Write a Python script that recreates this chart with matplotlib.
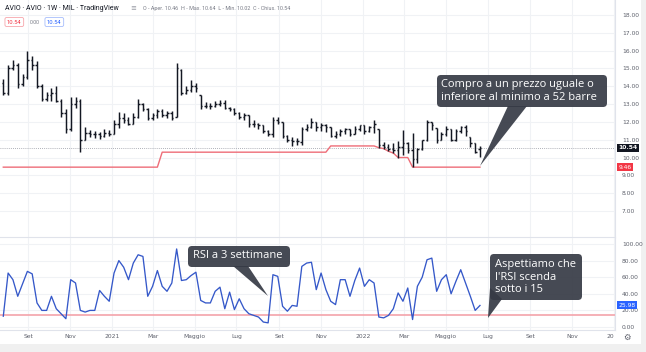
import matplotlib
matplotlib.use("Agg")
import matplotlib.pyplot as plt
import matplotlib.dates as mdates
import matplotlib.transforms as mtrans
from matplotlib.patches import FancyBboxPatch, Polygon, Rectangle
import numpy as np
import datetime as dt

# ---------------- data ----------------
first_week = dt.date(2020, 7, 27)
opens = [14.2, 13.6, 15.0, 15.2, 14.1, 14.5, 15.5, 15.2, 14.0, 13.3,
         13.5, 13.6, 13.2, 12.5, 11.6, 13.0, 13.2, 11.0, 11.4, 11.3,
         11.3, 11.2, 11.4, 11.3, 11.9, 12.2, 12.1, 11.9, 12.3, 13.0,
         12.7, 12.2, 12.4, 12.6, 12.4, 12.5, 12.3, 14.9, 13.6, 13.8,
         14.0, 13.5, 12.9, 12.9, 12.9, 13.0, 13.05, 12.8, 12.7, 12.5,
         12.3, 12.4, 11.9, 11.9, 11.8, 11.5, 11.3, 12.1, 12.0, 11.2,
         11.0, 10.9, 10.85, 11.6, 11.7, 12.0, 11.7, 11.8, 11.7, 11.2,
         11.3, 11.5, 11.6, 11.3, 11.6, 11.8, 11.5, 11.7, 11.6, 10.7,
         10.6, 10.5, 10.4, 10.6, 10.8, 10.4, 9.9, 10.5, 11.0, 12.0,
         11.65, 11.0, 11.3, 11.6, 11.0, 11.5, 11.7, 11.15, 10.8, 10.46]
highs = [14.4, 15.2, 15.5, 15.3, 14.7, 16.0, 15.7, 15.4, 14.1, 13.7,
         13.9, 14.0, 13.3, 12.7, 13.4, 13.4, 13.3, 11.7, 11.55, 11.5,
         11.45, 11.6, 11.55, 12.1, 12.55, 12.5, 12.3, 12.5, 13.3, 13.05,
         12.8, 12.5, 12.75, 12.7, 12.6, 12.6, 15.3, 14.95, 14.0, 14.35,
         14.2, 13.5, 13.1, 13.05, 13.15, 13.25, 13.25, 12.85, 12.8, 12.55,
         12.5, 12.4, 12.1, 11.95, 11.85, 11.55, 12.3, 12.3, 12.0, 11.25,
         11.15, 11.1, 11.7, 11.9, 12.2, 12.0, 11.95, 11.9, 11.7, 11.5,
         11.6, 11.65, 11.6, 11.75, 11.85, 11.85, 11.75, 12.1, 11.6, 10.85,
         10.75, 10.8, 10.9, 11.55, 10.85, 11.4, 10.55, 11.0, 12.1, 12.0,
         11.65, 11.45, 11.75, 11.6, 11.6, 11.75, 11.8, 11.15, 10.8, 10.64]
lows = [13.5, 13.5, 14.9, 13.9, 14.0, 14.4, 14.9, 13.9, 13.2, 13.2,
        13.2, 13.1, 12.3, 11.4, 11.5, 12.8, 10.3, 11.0, 11.15, 11.1,
        11.05, 11.15, 11.2, 11.3, 11.65, 11.95, 11.8, 11.9, 12.2, 12.6,
        12.1, 12.1, 12.2, 12.3, 12.2, 12.1, 12.3, 13.5, 13.55, 13.7,
        13.7, 12.7, 12.8, 12.75, 12.85, 12.9, 12.75, 12.6, 12.4, 12.15,
        12.1, 11.7, 11.7, 11.6, 11.4, 11.2, 11.15, 11.9, 11.1, 10.85,
        10.65, 10.7, 10.7, 11.5, 11.65, 11.5, 11.5, 11.45, 11.15, 11.1,
        11.2, 11.3, 11.2, 11.3, 11.5, 11.3, 11.45, 11.4, 10.55, 10.5,
        10.35, 10.25, 10.0, 10.15, 10.25, 9.46, 9.7, 10.45, 10.95, 11.55,
        10.8, 11.0, 11.2, 10.9, 10.95, 11.4, 11.2, 10.6, 10.25, 10.02]
closes = [13.6, 15.0, 15.2, 14.1, 14.5, 15.5, 15.2, 14.0, 13.3, 13.5,
          13.6, 13.2, 12.5, 11.6, 13.0, 13.2, 11.0, 11.4, 11.3, 11.3,
          11.2, 11.4, 11.3, 11.9, 12.2, 12.1, 11.9, 12.3, 13.0, 12.7,
          12.2, 12.4, 12.6, 12.4, 12.5, 12.2, 15.0, 13.6, 13.8, 14.0,
          13.9, 12.9, 12.9, 12.9, 13.0, 13.05, 12.8, 12.7, 12.5, 12.3,
          12.4, 11.9, 11.9, 11.8, 11.5, 11.3, 12.1, 12.0, 11.2, 11.0,
          10.9, 10.9, 11.6, 11.7, 12.0, 11.7, 11.8, 11.7, 11.2, 11.3,
          11.5, 11.6, 11.3, 11.6, 11.8, 11.5, 11.7, 11.9, 10.7, 10.6,
          10.5, 10.4, 10.6, 10.8, 10.4, 9.9, 10.5, 11.0, 12.0, 11.8,
          11.0, 11.3, 11.6, 11.0, 11.5, 11.7, 11.5, 10.8, 10.3, 10.54]
rsi3 = [13, 65, 57, 37, 52, 67, 64, 29, 20, 20,
        37, 22, 16, 10, 57, 53, 20, 18, 20, 20,
        44, 37, 31, 65, 80, 72, 57, 77, 87, 85,
        37, 49, 68, 49, 43, 53, 94, 56, 57, 62,
        66, 32, 29, 29, 43, 48, 22, 42, 21, 34,
        22, 16, 14, 12, 6, 5, 63, 61, 25, 19,
        26, 25, 73, 77, 78, 45, 65, 45, 31, 27,
        57, 57, 37, 56, 71, 49, 57, 53, 12, 11,
        14, 22, 41, 31, 47, 9, 49, 60, 81, 83,
        43, 57, 63, 40, 55, 69, 53, 37, 20, 25.98]
rsi_threshold = 15
prior_low = 9.46          # 52-week low set before the visible range
prior_low_bars = 33       # visible bars whose 52-week window still contains it

price_ticks = [7, 8, 9, 10, 11, 12, 13, 14, 15, 16, 17, 18]
rsi_ticks = [0, 20, 40, 60, 80, 100]
month_ticks = [dt.date(2020, 9, 1), dt.date(2020, 11, 1), dt.date(2021, 1, 1),
               dt.date(2021, 3, 1), dt.date(2021, 5, 1), dt.date(2021, 7, 1),
               dt.date(2021, 9, 1), dt.date(2021, 11, 1), dt.date(2022, 1, 1),
               dt.date(2022, 3, 1), dt.date(2022, 5, 1), dt.date(2022, 7, 1),
               dt.date(2022, 9, 1), dt.date(2022, 11, 1), dt.date(2023, 1, 1)]
month_labels = ["Set", "Nov", "2021", "Mar", "Maggio", "Lug", "Set", "Nov",
                "2022", "Mar", "Maggio", "Lug", "Set", "Nov", "20"]

n = len(closes)
dates = np.array([mdates.date2num(first_week + dt.timedelta(weeks=i)) for i in range(n)])
low52 = []
for i in range(n):
    m = min(lows[max(0, i - 51):i + 1])
    if i < prior_low_bars:
        m = min(m, prior_low)
    low52.append(m)

# ---------------- layout ----------------
W, H = 646, 352
plt.rcParams['font.family'] = ['Roboto', 'DejaVu Sans']
fig = plt.figure(figsize=(W / 100, H / 100), dpi=100)
fig.patch.set_facecolor('#f0f0f0')

bg = fig.add_axes([0, 0, 1, 1], zorder=0)
bg.set_xlim(0, W); bg.set_ylim(H, 0); bg.axis('off')
bg.add_patch(Rectangle((0, 0), 641, 344, facecolor='white', edgecolor='none'))

def fy(py):
    return 1 - py / H

plot_right = 615
axp = fig.add_axes([0, fy(237), plot_right / W, 237 / H], zorder=1)
axr = fig.add_axes([0, fy(330), plot_right / W, (330 - 238) / H], zorder=1)

day_per_px = 7 / 4.815
x0 = dates[0] - 3.3 * day_per_px
x1 = dates[0] + (plot_right - 3.3) * day_per_px
grid_c = '#f0f2f5'
sep_c = '#e0e3eb'
lab_c = '#5d606b'
tick_nums = [mdates.date2num(d) for d in month_ticks]

for ax in (axp, axr):
    ax.set_facecolor('none')
    ax.set_xlim(x0, x1)
    ax.set_xticks(tick_nums)
    ax.grid(True, color=grid_c, lw=0.8)
    ax.set_axisbelow(True)
    for s in ('top', 'left'):
        ax.spines[s].set_visible(False)
    ax.spines['right'].set_color(sep_c)
    ax.spines['bottom'].set_color(sep_c)
    ax.yaxis.tick_right()
    ax.tick_params(axis='y', length=0, pad=5, labelsize=4.3, labelcolor=lab_c)
    ax.tick_params(axis='x', length=0)

axp.set_ylim(5.54, 18.84)
axp.set_yticks(price_ticks)
axp.set_yticklabels([f"{v:.2f}" for v in price_ticks], family='DejaVu Sans')
axp.tick_params(axis='x', labelbottom=False)

axr.set_ylim(-3.6, 107.2)
axr.set_yticks(rsi_ticks)
axr.set_yticklabels([f"{v:.2f}" for v in rsi_ticks], family='DejaVu Sans')
axr.set_xticklabels(month_labels, family='DejaVu Sans')
axr.tick_params(axis='x', pad=3, labelsize=4.3, labelcolor=lab_c)
axr.get_xticklabels()[-1].set_horizontalalignment('right')

# OHLC bars
tick_len = 2.2
axp.vlines(dates, lows, highs, color='#131722', lw=1.05, zorder=3)
axp.hlines(opens, dates - tick_len, dates, color='#131722', lw=1.05, zorder=3)
axp.hlines(closes, dates, dates + tick_len, color='#131722', lw=1.05, zorder=3)
# last price line
axp.axhline(closes[-1], color='#9598a1', lw=0.6, ls=(0, (1, 1.5)), zorder=2)
# 52-week low
axp.plot(dates, low52, color='#ee6d78', lw=1.0, zorder=2)

# RSI
axr.plot(dates, rsi3, color='#3558c9', lw=0.95, zorder=3)
axr.axhline(rsi_threshold, color='#f4a3aa', lw=1.2, zorder=2)

# axis value boxes
btr_p = mtrans.blended_transform_factory(axp.transAxes, axp.transData)
btr_r = mtrans.blended_transform_factory(axr.transAxes, axr.transData)
axp.text(1.006, closes[-1], f"{closes[-1]:.2f}", transform=btr_p, fontsize=4.3,
         family='DejaVu Sans', color='white', va='center', ha='left', fontweight='bold',
         bbox=dict(boxstyle='square,pad=0.25', fc='#131722', ec='none'), zorder=5, clip_on=False)
axp.text(1.006, low52[-1], f"{low52[-1]:.2f}", transform=btr_p, fontsize=4.3,
         family='DejaVu Sans', color='white', va='center', ha='left',
         bbox=dict(boxstyle='square,pad=0.25', fc='#f23645', ec='none'), zorder=5, clip_on=False)
axr.text(1.006, rsi3[-1], f"{rsi3[-1]:.2f}", transform=btr_r, fontsize=4.3,
         family='DejaVu Sans', color='white', va='center', ha='left',
         bbox=dict(boxstyle='square,pad=0.25', fc='#2962ff', ec='none'), zorder=5, clip_on=False)

# ---------------- overlay: header & callouts ----------------
ov = fig.add_axes([0, 0, 1, 1], zorder=10)
ov.set_xlim(0, W); ov.set_ylim(H, 0); ov.axis('off')

ov.text(5, 8, "AVIO · AVIO · 1W · MIL · TradingView", fontsize=5.0, color='#131722',
        va='center', ha='left')
ov.text(130, 8, "≡", fontsize=5, color='#9598a1', va='center', ha='left', family='DejaVu Sans')
ov.text(143, 8.3, "O - Aper. 10.46  H - Max. 10.64  L - Min. 10.02  C - Chius. 10.54",
        fontsize=3.9, color='#787b86', va='center', ha='left')
ov.text(7, 22, "10.54", fontsize=4.2, color='#f23645', va='center', ha='left',
        bbox=dict(boxstyle='round,pad=0.35,rounding_size=0.3', fc='white', ec='#f7a5ab', lw=0.6))
ov.text(30, 22, "0.00", fontsize=3.8, color='#787b86', va='center', ha='left')
ov.text(47, 22, "10.54", fontsize=4.2, color='#2962ff', va='center', ha='left',
        bbox=dict(boxstyle='round,pad=0.35,rounding_size=0.3', fc='white', ec='#a7bdfc', lw=0.6))
ov.text(627, 337, "⚙", fontsize=6, color='#5d606b', va='center', ha='center', family='DejaVu Sans')

box_c = '#363a45'

def callout(x, y, w, h, tail, lines, tx, ty, lh):
    ov.add_patch(Polygon(tail, closed=True, fc=box_c, ec='none', alpha=0.92))
    ov.add_patch(FancyBboxPatch((x, y), w, h, boxstyle='round,pad=0,rounding_size=4',
                                fc=box_c, ec='none', alpha=0.92))
    for k, s in enumerate(lines):
        ov.text(tx, ty + k * lh, s, fontsize=8, color='white', va='center', ha='left',
                family=['Open Sans', 'DejaVu Sans'])

callout(437, 75, 170, 32, [(508, 106), (527, 106), (480, 166)],
        ["Compro a un prezzo uguale o", "inferiore al minimo a 52 barre"], 441, 84.5, 13)
callout(188, 246, 102, 21, [(233, 266), (248, 266), (268, 296)],
        ["RSI a 3 settimane"], 193, 256, 13)
callout(490, 254, 92, 46, [(490, 288), (502, 299), (488, 318)],
        ["Aspettiamo che", "l'RSI scenda", "sotto i 15"], 495, 264, 13)

fig.savefig("out.png", dpi=100, facecolor=fig.get_facecolor())
